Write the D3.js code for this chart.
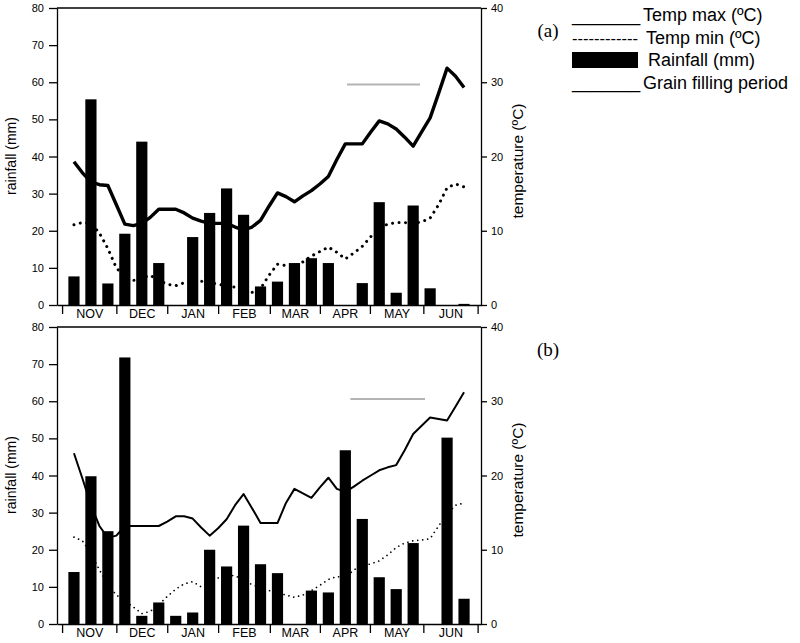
<!DOCTYPE html>
<html>
<head>
<meta charset="utf-8">
<script src="https://cdn.jsdelivr.net/npm/d3@7"></script>
<style>
  html, body { margin: 0; padding: 0; background: #fff; }
  svg { display: block; }
  text { font-family: "Liberation Sans", Arial, sans-serif; fill: #000; }
</style>
</head>
<body>
<svg id="chart" width="800" height="643"></svg>
<script>
// ---------------- DATA ----------------
const months = ["NOV", "DEC", "JAN", "FEB", "MAR", "APR", "MAY", "JUN"];
// month boundaries, expressed in dekad units (dekad 0 = 1st dekad of Nov)
const monthBounds = [-0.7, 2.5, 5.5, 8.5, 11.55, 14.5, 17.45, 20.6, 23.8];
const rainTicks = [0, 10, 20, 30, 40, 50, 60, 70, 80];
const tempTicks = [0, 10, 20, 30, 40];

// rainfall per dekad (mm), 24 dekads Nov..Jun
const rainA = [7.7, 55.4, 5.8, 19.2, 44.0, 11.3, 0, 18.3, 24.8, 31.4, 24.3, 5.0,
               6.3, 11.3, 12.6, 11.3, 0, 5.9, 27.7, 3.3, 26.8, 4.5, 0, 0.3];
const rainB = [14.0, 39.8, 25.0, 71.8, 2.2, 5.8, 2.2, 3.1, 20.0, 15.5, 26.5, 16.1,
               13.7, 0, 9.0, 8.5, 46.8, 28.3, 12.6, 9.4, 21.8, 0, 50.2, 6.8];

// temperatures (°C) every half dekad, from dekad 0 to dekad 23
const tmaxA = [19.3, 17.8, 16.6, 16.2, 16.1, 13.5, 10.9, 10.7, 11.0, 11.8, 12.9, 12.9,
               12.9, 12.4, 11.7, 11.3, 11.0, 11.0, 11.0, 10.5, 10.1, 10.5, 11.4, 13.3,
               15.1, 14.6, 13.9, 14.7, 15.4, 16.3, 17.3, 19.6, 21.7, 21.7, 21.7, 23.3,
               24.8, 24.4, 23.7, 22.6, 21.4, 23.3, 25.2, 28.5, 31.9, 30.8, 29.3];
const tminA = [10.8, 11.1, 11.0, 9.7, 7.6, 5.0, 3.8, 3.3, 3.6, 4.0, 3.3, 2.8,
               2.6, 3.0, 3.1, 3.2, 3.0, 2.8, 2.6, 2.4, 1.8, 1.7, 2.2, 4.0,
               5.5, 5.3, 5.3, 5.8, 6.6, 7.2, 7.8, 7.1, 6.2, 7.0, 7.9, 9.2,
               10.3, 10.9, 11.1, 11.1, 11.0, 11.2, 11.7, 13.5, 15.8, 16.3, 15.9];
const tmaxB = [23.0, 19.6, 16.0, 13.2, 11.6, 11.9, 13.2, 13.2, 13.2, 13.2, 13.2, 13.8,
               14.5, 14.5, 14.2, 13.0, 11.9, 12.9, 14.1, 16.0, 17.5, 15.6, 13.6, 13.6,
               13.6, 16.3, 18.2, 17.6, 17.0, 18.4, 19.7, 18.2, 17.8, 18.5, 19.3, 20.0,
               20.7, 21.1, 21.4, 23.4, 25.6, 26.7, 27.8, 27.6, 27.4, 29.3, 31.2];
const tminB = [11.7, 11.2, 9.5, 7.3, 5.3, 3.9, 3.1, 2.3, 1.4, 1.7, 2.6, 3.7,
               4.7, 5.4, 5.7, 5.0, 5.6, 6.2, 6.6, 6.5, 5.9, 5.3, 4.9, 4.5,
               4.2, 3.9, 3.6, 3.9, 4.5, 5.2, 6.0, 6.4, 6.2, 7.3, 7.8, 8.1,
               8.5, 9.3, 10.3, 10.9, 11.2, 11.3, 11.5, 13.2, 14.8, 16.0, 16.3];

// grain filling period (dekad start, dekad end, level in °C)
const grainStart = [16.1, 16.3];
const grainEnd = [20.4, 20.7];
const grainLevel = [29.7, 30.3];

const panelNames = ["(a)", "(b)"];
const legendLabels = ["Temp max (\u00BAC)", "Temp min (\u00BAC)", "Rainfall (mm)", "Grain filling period"];
const legendPrefixes = ["_______", "------------", "", "_______"];

// ---------------- DRAW ----------------
const svg = d3.select("#chart");
svg.append("rect").attr("width", 800).attr("height", 643).attr("fill", "#fff");

const X0 = 57, X1 = 481, H = 297;
const x = d3.scaleLinear().domain([-1, 24]).range([X0, X1]);
const step = x(1) - x(0);

function panel(top, rain, tmax, tmin, gi, lineStyle) {
  const g = svg.append("g");
  const yR = d3.scaleLinear().domain([0, 80]).range([top + H, top]);
  const yT = d3.scaleLinear().domain([0, 40]).range([top + H, top]);

  // bars
  g.selectAll("rect.bar").data(rain).join("rect")
    .attr("class", "bar")
    .attr("x", (d, i) => x(i) - step * 0.33)
    .attr("width", step * 0.66)
    .attr("y", d => yR(d))
    .attr("height", d => yR(0) - yR(d))
    .attr("fill", "#000");

  // grain filling
  g.append("line")
    .attr("x1", x(grainStart[gi])).attr("x2", x(grainEnd[gi]))
    .attr("y1", yT(grainLevel[gi])).attr("y2", yT(grainLevel[gi]))
    .attr("stroke", "#b4b4b4").attr("stroke-width", 2);

  const line = d3.line().x((d, i) => x(i * 0.5)).y(d => yT(d));
  g.append("path").datum(tmax).attr("d", line)
    .attr("fill", "none").attr("stroke", "#000")
    .attr("stroke-width", lineStyle.maxW).attr("stroke-linejoin", "round");
  g.append("path").datum(tmin).attr("d", line)
    .attr("fill", "none").attr("stroke", "#000")
    .attr("stroke-width", lineStyle.minW).attr("stroke-linecap", "round")
    .attr("stroke-dasharray", lineStyle.minDash);

  // axes
  const left = g.append("g").attr("transform", `translate(${X0},0)`)
    .call(d3.axisLeft(yR).tickValues(rainTicks).tickSize(8).tickSizeOuter(0).tickPadding(5));
  const right = g.append("g").attr("transform", `translate(${X1},0)`)
    .call(d3.axisRight(yT).tickValues(tempTicks).tickSize(6).tickSizeOuter(0).tickPadding(4));
  const bottom = g.append("g").attr("transform", `translate(0,${top + H})`)
    .call(d3.axisBottom(x).tickValues(monthBounds).tickSize(9).tickSizeOuter(0).tickFormat(""));
  const mids = months.map((m, i) => (monthBounds[i] + monthBounds[i + 1]) / 2);
  const mlab = g.append("g").attr("transform", `translate(0,${top + H})`)
    .call(d3.axisBottom(x).tickValues(mids).tickSize(0).tickPadding(4)
      .tickFormat((d, i) => months[i]));
  mlab.select(".domain").remove();
  [left, right, bottom, mlab].forEach(a => {
    a.selectAll("text").attr("font-size", 11).attr("font-family", "Liberation Sans, Arial, sans-serif");
    a.selectAll("line,path").attr("stroke", "#000").attr("stroke-width", 1.3);
  });
  mlab.selectAll("text").attr("font-size", 12.5);

  // top border
  g.append("line").attr("x1", X0).attr("x2", X1).attr("y1", top).attr("y2", top)
    .attr("stroke", "#000").attr("stroke-width", 1.3);

  // axis titles
  g.append("text").attr("transform", `translate(16,${top + 148}) rotate(-90)`)
    .attr("text-anchor", "middle").attr("font-size", 14).text("rainfall (mm)");
  g.append("text").attr("transform", `translate(523,${top + 153}) rotate(-90)`)
    .attr("text-anchor", "middle").attr("font-size", 15.5).text("temperature (\u00BAC)");

  // panel label
  svg.append("text").attr("x", 548).attr("y", top + 29).attr("text-anchor", "middle")
    .attr("font-size", 19)
    .style("font-family", "'Liberation Serif', 'Times New Roman', serif")
    .text(panelNames[gi]);
}

panel(8, rainA, tmaxA, tminA, 0, { maxW: 3.4, minW: 3, minDash: "0.01,6.5" });
panel(327, rainB, tmaxB, tminB, 1, { maxW: 2, minW: 1.7, minDash: "0.01,5" });

// legend
const FS = 18;
const lg = svg.append("g");
const lx = 572, ly = [21, 44, 66, 89];
const labelX = [643, 646, 648, 643];
legendLabels.forEach((lab, i) => {
  if (legendPrefixes[i]) {
    lg.append("text").attr("x", lx).attr("y", ly[i] - (i === 3 ? 1 : 0))
      .attr("font-size", i === 1 ? 16.5 : 17.5).text(legendPrefixes[i]);
  }
  lg.append("text").attr("x", labelX[i]).attr("y", ly[i]).attr("font-size", FS).text(lab);
});
lg.append("rect").attr("x", lx).attr("y", 52).attr("width", 66).attr("height", 16).attr("fill", "#000");
</script>
</body>
</html>
